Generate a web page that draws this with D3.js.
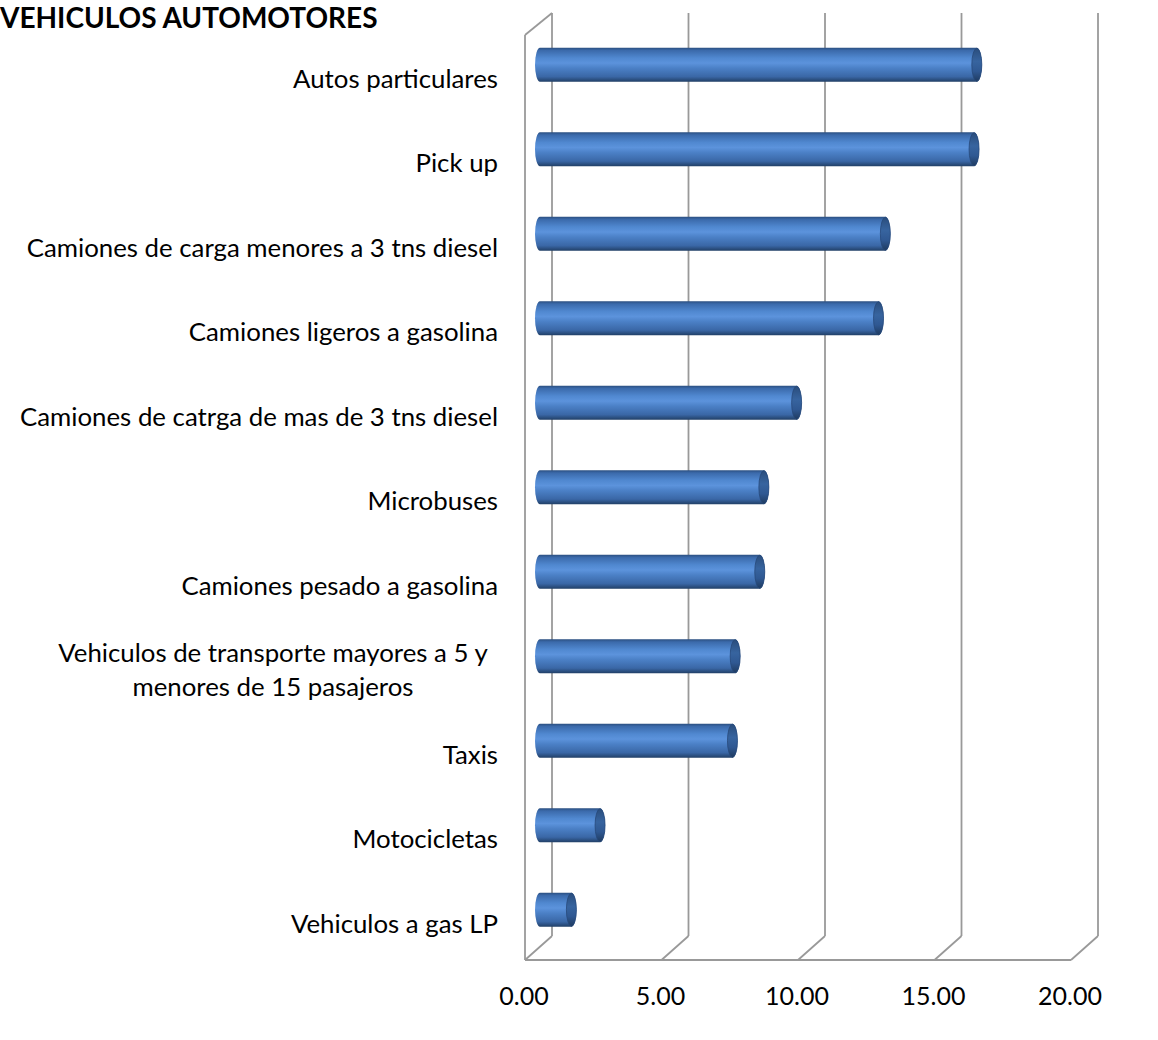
<!DOCTYPE html>
<html><head><meta charset="utf-8">
<script src="https://cdn.jsdelivr.net/npm/d3@7"></script>
<style>html,body{margin:0;padding:0;background:#fff;}svg{display:block;}</style>
</head><body>
<svg id="c" width="1158" height="1040"></svg>
<script>
const title = "VEHICULOS AUTOMOTORES";
const categories = [
  "Autos particulares",
  "Pick up",
  "Camiones de carga menores a 3 tns diesel",
  "Camiones ligeros a gasolina",
  "Camiones de catrga de mas de 3 tns diesel",
  "Microbuses",
  "Camiones pesado a gasolina",
  "Vehiculos de transporte mayores a 5 y|menores de 15 pasajeros",
  "Taxis",
  "Motocicletas",
  "Vehiculos a gas LP"
];
const values = [16.0, 15.9, 12.65, 12.4, 9.4, 8.2, 8.05, 7.15, 7.05, 2.2, 1.15];
const tickValues = [0, 5, 10, 15, 20];
const tickLabels = ["0.00", "5.00", "10.00", "15.00", "20.00"];

const svg = d3.select("#c");
const FONT = "Lato, 'Open Sans', sans-serif";

// scales
const xBack = d3.scaleLinear().domain([0, 20]).range([552, 1098]);
const xFront = d3.scaleLinear().domain([0, 20]).range([525, 1071]);
const xBar = d3.scaleLinear().domain([0, 20]).range([540, 1086]);
const y = d3.scaleBand().domain(categories).range([22.5, 952]).paddingInner(0.6).paddingOuter(0.3);

const wallTop = 13, floorBack = 936, floorFront = 960;
const gridColor = "#999999";

// defs
const defs = svg.append("defs");
const g1 = defs.append("linearGradient").attr("id", "body").attr("x1", 0).attr("y1", 0).attr("x2", 0).attr("y2", 1);
[[0, "#2b4f80"], [0.08, "#3b6aab"], [0.3, "#5088d0"], [0.45, "#5c93dc"], [0.6, "#4b80c6"], [0.85, "#3a67a6"], [1, "#213f66"]]
  .forEach(([o, c]) => g1.append("stop").attr("offset", o).attr("stop-color", c));
const g2 = defs.append("linearGradient").attr("id", "cap").attr("x1", 0).attr("y1", 0).attr("x2", 0).attr("y2", 1);
[[0, "#2a4d7c"], [0.4, "#37649f"], [0.7, "#2f5892"], [1, "#1f3b60"]]
  .forEach(([o, c]) => g2.append("stop").attr("offset", o).attr("stop-color", c));

// title
svg.append("text").attr("x", 0).attr("y", 28).text(title)
  .attr("font-family", FONT).attr("font-weight", "bold").attr("font-size", 28).attr("fill", "#000");

const grid = svg.append("g").attr("stroke", gridColor).attr("stroke-width", 1.8).attr("fill", "none");
// back wall vertical lines
grid.selectAll("line.back").data(tickValues).join("line")
  .attr("x1", d => xBack(d)).attr("x2", d => xBack(d))
  .attr("y1", wallTop).attr("y2", floorBack);
// floor diagonals
grid.selectAll("line.diag").data(tickValues).join("line")
  .attr("x1", d => xBack(d)).attr("x2", d => xFront(d))
  .attr("y1", floorBack).attr("y2", floorFront);
// front floor edge
grid.append("line").attr("x1", xFront(0)).attr("x2", xFront(20)).attr("y1", floorFront).attr("y2", floorFront);
// left side wall
grid.append("line").attr("x1", xFront(0)).attr("x2", xFront(0)).attr("y1", wallTop + 22).attr("y2", floorFront);
grid.append("line").attr("x1", xFront(0)).attr("x2", xBack(0)).attr("y1", wallTop + 22).attr("y2", wallTop);

// bars (cylinders)
const bh = 34, rx = 5;
const bars = svg.append("g");
categories.forEach((c, i) => {
  const cy = y(c) + y.bandwidth() / 2;
  const x0 = xBar(0), x1 = xBar(values[i]);
  const top = cy - bh / 2, bot = cy + bh / 2;
  const d = `M${x0},${top} L${x1},${top} A${rx},${bh/2} 0 0 1 ${x1},${bot} L${x0},${bot} A${rx},${bh/2} 0 0 1 ${x0},${top} Z`;
  bars.append("path").attr("d", d).attr("fill", "url(#body)");
  bars.append("ellipse").attr("cx", x1).attr("cy", cy).attr("rx", rx).attr("ry", bh / 2 - 0.5)
    .attr("fill", "url(#cap)").attr("stroke", "#27497a").attr("stroke-width", 0.8);
});

// category labels
const labels = svg.append("g").attr("font-family", FONT).attr("font-size", 25.8).attr("fill", "#000").attr("text-anchor", "end");
categories.forEach(c => {
  const cy = y(c) + y.bandwidth() / 2 + 13;
  const lines = c.split("|");
  const lh = 34;
  const t = labels.append("text").attr("dominant-baseline", "central");
  if (lines.length === 1) {
    t.attr("x", 498).attr("y", cy).text(lines[0]);
  } else {
    t.attr("text-anchor", "middle");
    lines.forEach((l, k) => {
      t.append("tspan").attr("x", 273).attr("y", cy + (k - (lines.length - 1) / 2) * lh).text(l);
    });
  }
});

// tick labels
svg.append("g").attr("font-family", FONT).attr("font-size", 25).attr("fill", "#000").attr("text-anchor", "middle")
  .selectAll("text").data(tickValues).join("text")
  .attr("x", d => xFront(d) - 1).attr("y", 995).attr("dominant-baseline", "central")
  .text((d, i) => tickLabels[i]);
</script>
</body></html>
